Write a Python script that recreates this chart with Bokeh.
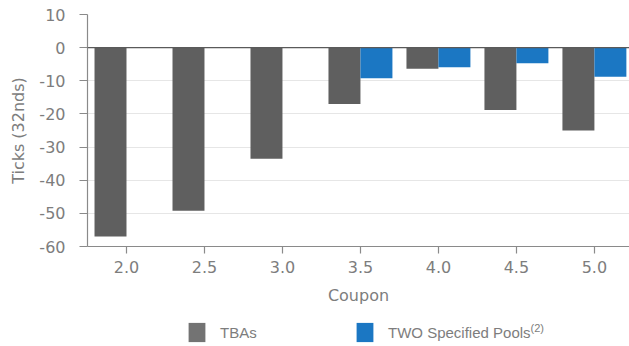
from bokeh.plotting import figure
from bokeh.layouts import column
from bokeh.models import (Range1d, FixedTicker, NumeralTickFormatter, Span,
                          Legend, LegendItem, ColumnDataSource, Label)
from bokeh.embed import file_html
from bokeh.resources import INLINE

# Price change by coupon, in ticks (32nds)
coupons = [2.0, 2.5, 3.0, 3.5, 4.0, 4.5, 5.0]
tba_ticks = [-57.0, -49.2, -33.5, -17.0, -6.4, -18.8, -25.0]
pool_ticks = [float("nan"), float("nan"), float("nan"), -9.2, -5.9, -4.7, -8.8]
y_ticks = [-60, -50, -40, -30, -20, -10, 0, 10]
y_tick_labels = ["-60", "-50", "-40", "-30", "-20", "-10", "0", "10"]

series_names = ["TBAs", "TWO Specified Pools"]
pool_footnote = "(2)"
series_colors = ["#5f5f5f", "#1b77c3"]
swatch_colors = ["#737373", "#1b77c3"]

GRAY_TEXT = "#7d7d7d"
AXIS_COLOR = "#8a8a8a"
FONT = "DejaVu Sans"
LEGEND_FONT = "'Liberation Sans', Arial, sans-serif"

W = 629
LEGEND_H = 36

p = figure(width=W, height=346 - LEGEND_H, output_backend="svg",
           toolbar_location=None,
           x_range=Range1d(1.75, 5.225), y_range=Range1d(-60, 10),
           min_border_left=87, min_border_right=0, min_border_top=14,
           min_border_bottom=64)
p.outline_line_color = None
p.background_fill_color = "white"
p.border_fill_color = "white"

bar_w = 0.205
src = ColumnDataSource(dict(
    x_tba=[c - bar_w / 2 for c in coupons],
    x_pool=[c + bar_w / 2 for c in coupons],
    tba=tba_ticks, pool=pool_ticks))

p.vbar(x="x_tba", top=0, bottom="tba", width=bar_w, source=src,
       fill_color=series_colors[0], line_color=None)
p.vbar(x="x_pool", top=0, bottom="pool", width=bar_w, source=src,
       fill_color=series_colors[1], line_color=None)

# zero line
p.add_layout(Span(location=0, dimension="width", line_color="#5a5a5a",
                  line_width=1.2))

# x axis
xa = p.xaxis[0]
xa.ticker = FixedTicker(ticks=coupons)
xa.formatter = NumeralTickFormatter(format="0.0")
xa.axis_label = "Coupon"
# y axis
ya = p.yaxis[0]
ya.ticker = FixedTicker(ticks=y_ticks)
ya.major_label_overrides = dict(zip(y_ticks, y_tick_labels))
ya.axis_label = "Ticks (32nds)"

for ax in (xa, ya):
    ax.axis_line_color = AXIS_COLOR
    ax.axis_line_width = 1.2
    ax.major_tick_line_color = AXIS_COLOR
    ax.major_tick_line_width = 1.2
    ax.major_tick_in = 0
    ax.major_tick_out = 7
    ax.minor_tick_line_color = None
    ax.major_label_text_font = FONT
    ax.major_label_text_font_size = "16px"
    ax.major_label_text_color = GRAY_TEXT
    ax.axis_label_text_font = FONT
    ax.axis_label_text_font_size = "16px"
    ax.axis_label_text_font_style = "normal"
    ax.axis_label_text_color = GRAY_TEXT

ya.major_tick_out = 8
ya.major_label_standoff = 14
ya.axis_label_standoff = 8
xa.major_label_standoff = 7
xa.axis_label_standoff = 10

p.xgrid.grid_line_color = None
p.ygrid.grid_line_color = "#e6e6e6"
p.ygrid.grid_line_width = 1.2

# legend strip under the chart (its frame lines up with the chart frame)
lg_fig = figure(width=W, height=LEGEND_H, output_backend="svg",
                toolbar_location=None, x_axis_location=None,
                y_axis_location=None, min_border=0,
                x_range=Range1d(0, 1), y_range=Range1d(0, 1))
lg_fig.outline_line_color = None
lg_fig.xgrid.grid_line_color = None
lg_fig.ygrid.grid_line_color = None
lg_fig.border_fill_color = "white"

legend_pos = [(99, 2), (267, 2)]
for name, color, loc in zip(series_names, swatch_colors, legend_pos):
    # zero-height bar: only supplies the legend swatch style
    swatch = lg_fig.vbar(x=[0], top=[0], bottom=[0], width=0.1,
                         fill_color=color, line_color=None)
    lg = Legend(items=[LegendItem(label=name, renderers=[swatch])],
                location=loc, orientation="horizontal",
                glyph_width=21, glyph_height=24, label_height=24,
                label_standoff=13, padding=0, margin=0, spacing=0,
                border_line_color=None, background_fill_alpha=0,
                label_text_font=LEGEND_FONT, label_text_font_size="15px",
                label_text_color=GRAY_TEXT)
    lg_fig.add_layout(lg, "center")

# superscript footnote marker after the second legend entry
lg_fig.add_layout(Label(x=443, y=25, x_units="screen", y_units="screen",
                        text=pool_footnote, text_baseline="top",
                        text_font=LEGEND_FONT, text_font_size="11px",
                        text_color=GRAY_TEXT))

layout = column(p, lg_fig, spacing=0)
open("out.html", "w").write(file_html(layout, INLINE))
